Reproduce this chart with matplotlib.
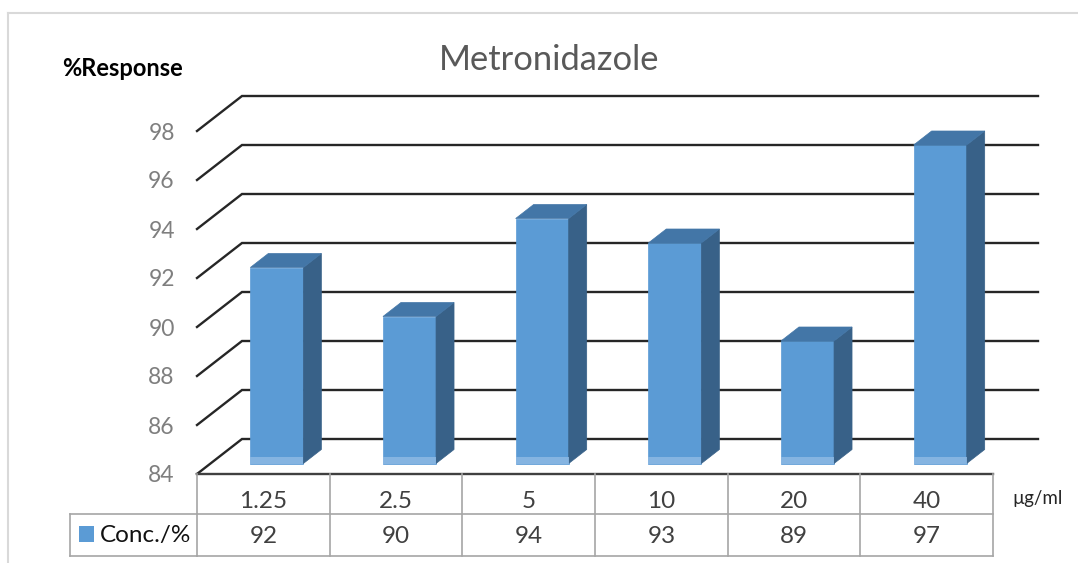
import matplotlib
matplotlib.use("Agg")
import matplotlib.pyplot as plt
from matplotlib.patches import Polygon, Rectangle
from matplotlib.lines import Line2D
from matplotlib.transforms import blended_transform_factory

# ---- data ----
title = "Metronidazole"
y_label = "%Response"
x_unit = "µg/ml"
series_name = "Conc./%"
concentrations = ["1.25", "2.5", "5", "10", "20", "40"]
responses = [92, 90, 94, 93, 89, 97]
y_ticks = [84, 86, 88, 90, 92, 94, 96, 98]

# ---- style ----
FONT = "Lato"
plt.rcParams["font.family"] = [FONT, "DejaVu Sans"]
FRONT = "#5B9BD5"
SIDE = "#386188"
TOP = "#4376A7"
BAND = "#8DB9E4"
GRID = "#262626"
TABLE = "#A6A6A6"

W, H = 1078, 563
fig = plt.figure(figsize=(W / 100, H / 100), dpi=100)


def fx(px):
    return px / W


def fy(py):
    return 1 - py / H


# front plane of the 3-D box
left_px, right_px, bottom_px, top_px = 197, 993, 474, 131
ax = fig.add_axes([fx(left_px), fy(bottom_px), (right_px - left_px) / W,
                   (bottom_px - top_px) / H])
n = len(concentrations)
ax.set_xlim(0, n)
ax.set_ylim(y_ticks[0], y_ticks[-1])
ax.patch.set_visible(False)
for s in ax.spines.values():
    s.set_visible(False)
ax.set_xticks([])
ax.set_yticks(y_ticks)
ax.set_yticklabels([str(t) for t in y_ticks])
ax.tick_params(axis="y", length=0, pad=16, labelsize=16.5, labelcolor="#7F7F7F")

# depth of the box (pixels) converted to data units
DEPTH_X_PX, DEPTH_Y_PX = 45, 35
DX = DEPTH_X_PX * n / (right_px - left_px)
DV = DEPTH_Y_PX * (y_ticks[-1] - y_ticks[0]) / (bottom_px - top_px)


def P(x, v, d):
    return (x + DX * d, v + DV * d)


# back-wall gridlines with their side-wall diagonals
for v in y_ticks:
    pts = [P(0, v, 0), P(0, v, 1), P(n, v, 1)]
    ax.plot([p[0] for p in pts], [p[1] for p in pts], color=GRID, lw=1.7,
            clip_on=False, zorder=1, solid_joinstyle="miter")

# front edge of the floor
ax.plot([0, n], [y_ticks[0], y_ticks[0]], color="#404040", lw=1.7,
        clip_on=False, zorder=1)

# 3-D columns
base = y_ticks[0]
d0, d1 = 0.3, 0.7
for i, v in enumerate(responses):
    x0, x1 = i + 0.3, i + 0.7
    front = [P(x0, base, d0), P(x1, base, d0), P(x1, v, d0), P(x0, v, d0)]
    side = [P(x1, base, d0), P(x1, base, d1), P(x1, v, d1), P(x1, v, d0)]
    top = [P(x0, v, d0), P(x1, v, d0), P(x1, v, d1), P(x0, v, d1)]
    for poly, col in ((front, FRONT), (side, SIDE), (top, TOP)):
        ax.add_patch(Polygon(poly, closed=True, facecolor=col, edgecolor=col,
                             lw=0.5, clip_on=False, zorder=3))
    band = [P(x0, base, d0), P(x1, base, d0), P(x1, base + 0.25, d0),
            P(x0, base + 0.25, d0)]
    ax.add_patch(Polygon(band, closed=True, facecolor=BAND, edgecolor="none",
                         alpha=0.85, clip_on=False, zorder=4))

# ---- data table ----
tr = blended_transform_factory(ax.transData, fig.transFigure)
r0, r1, r2 = fy(474), fy(514), fy(556)
for k in range(n + 1):
    ax.add_line(Line2D([k, k], [r0, r2], transform=tr, color=TABLE, lw=1.2,
                       clip_on=False, zorder=2))
for yy in (r1, r2):
    ax.add_line(Line2D([0, n], [yy, yy], transform=tr, color=TABLE, lw=1.2,
                       clip_on=False, zorder=2))
leg_left = 70
for seg in (([leg_left, left_px], [514, 514]), ([leg_left, left_px], [556, 556]),
            ([leg_left, leg_left], [514, 556])):
    fig.add_artist(Line2D([fx(p) for p in seg[0]], [fy(p) for p in seg[1]],
                          color=TABLE, lw=1.2))

TABLE_FS = 17.5
for i, (c, v) in enumerate(zip(concentrations, responses)):
    ax.text(i + 0.5, fy(508), c, transform=tr, ha="center", va="baseline",
            fontsize=TABLE_FS, color="#404040")
    ax.text(i + 0.5, fy(543), str(v), transform=tr, ha="center",
            va="baseline", fontsize=TABLE_FS, color="#404040")

fig.add_artist(Rectangle((fx(79), fy(542)), 15 / W, 16 / H, facecolor=FRONT,
                         edgecolor="none", transform=fig.transFigure))
fig.text(fx(100), fy(542), series_name, ha="left", va="baseline",
         fontsize=TABLE_FS, color="#111111")

# ---- titles ----
fig.text(fx(549), fy(70), title, ha="center", va="baseline", fontsize=24.8,
         color="#595959")
fig.text(fx(62), fy(76), y_label, ha="left", va="baseline", fontsize=17,
         fontweight="bold", color="#000000")
fig.text(fx(1012), fy(504), x_unit, ha="left", va="baseline", fontsize=13.5,
         color="#262626")

# chart frame
fig.add_artist(Line2D([fx(8), fx(W)], [fy(13), fy(13)], color="#D9D9D9", lw=1.5))
fig.add_artist(Line2D([fx(8), fx(8)], [fy(13), fy(H)], color="#D9D9D9", lw=1.5))

fig.savefig("out.png", dpi=100)
